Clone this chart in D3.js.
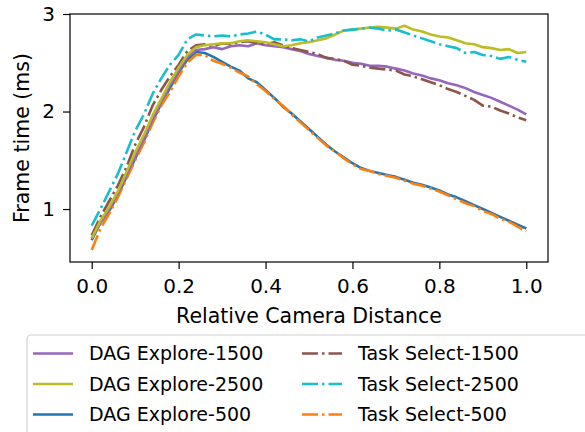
<!DOCTYPE html>
<html>
<head>
<meta charset="utf-8">
<script src="https://cdn.jsdelivr.net/npm/d3@7"></script>
<style>
body { margin: 0; background: #fff; }
text { font-family: "DejaVu Sans", sans-serif; fill: #000; }
</style>
</head>
<body>
<script>
var w = 585;
var h = 432;

// relative camera distance, step 0.02
var distance = d3.range(51).map(function(i){ return i / 50; });

var dagExplore500 = [0.68,0.86,0.98,1.14,1.33,1.52,1.70,1.90,2.08,2.24,
  2.40,2.53,2.61,2.60,2.56,2.51,2.46,2.42,2.34,2.30,
  2.22,2.14,2.05,1.98,1.90,1.82,1.74,1.66,1.59,1.53,
  1.47,1.42,1.39,1.37,1.35,1.33,1.30,1.27,1.25,1.22,
  1.19,1.15,1.12,1.08,1.04,1.00,0.96,0.92,0.88,0.84,0.80];
var taskSelect500 = [0.58,0.80,0.95,1.12,1.31,1.50,1.68,1.88,2.06,2.20,
  2.36,2.50,2.58,2.58,2.52,2.49,2.45,2.40,2.36,2.28,
  2.21,2.13,2.06,1.97,1.89,1.81,1.73,1.65,1.59,1.52,
  1.46,1.41,1.39,1.36,1.34,1.32,1.29,1.26,1.24,1.21,
  1.18,1.14,1.10,1.06,1.03,0.98,0.95,0.90,0.87,0.82,0.77];
var dagExplore1500 = [0.70,0.86,1.00,1.16,1.35,1.54,1.72,1.92,2.10,2.27,
  2.42,2.56,2.63,2.64,2.66,2.64,2.67,2.68,2.67,2.70,
  2.68,2.67,2.66,2.64,2.62,2.59,2.57,2.55,2.53,2.52,
  2.50,2.49,2.47,2.47,2.46,2.44,2.42,2.39,2.37,2.34,
  2.32,2.29,2.27,2.24,2.20,2.17,2.14,2.10,2.06,2.02,1.97];
var taskSelect1500 = [0.73,0.92,1.08,1.24,1.43,1.66,1.84,2.06,2.22,2.36,
  2.48,2.62,2.68,2.69,2.67,2.70,2.69,2.71,2.72,2.70,
  2.69,2.71,2.68,2.65,2.63,2.61,2.59,2.55,2.54,2.52,
  2.48,2.47,2.45,2.44,2.43,2.42,2.38,2.36,2.33,2.30,
  2.27,2.23,2.20,2.16,2.12,2.06,2.05,2.01,1.98,1.94,1.91];
var dagExplore2500 = [0.70,0.88,1.02,1.18,1.38,1.58,1.76,1.96,2.13,2.30,
  2.45,2.58,2.66,2.68,2.69,2.70,2.70,2.72,2.73,2.72,
  2.71,2.69,2.67,2.68,2.70,2.71,2.73,2.75,2.79,2.83,
  2.84,2.85,2.86,2.87,2.86,2.85,2.88,2.84,2.82,2.79,
  2.77,2.76,2.73,2.70,2.69,2.66,2.65,2.63,2.64,2.60,2.61];
var taskSelect2500 = [0.83,1.00,1.18,1.36,1.58,1.80,1.97,2.18,2.34,2.48,
  2.58,2.74,2.79,2.78,2.77,2.78,2.77,2.79,2.80,2.82,
  2.79,2.74,2.74,2.73,2.74,2.72,2.76,2.78,2.80,2.83,
  2.84,2.85,2.86,2.85,2.83,2.84,2.81,2.78,2.75,2.72,
  2.69,2.67,2.65,2.60,2.61,2.58,2.57,2.54,2.56,2.53,2.51];

var xTicks = [0, 0.2, 0.4, 0.6, 0.8, 1.0];
var yTicks = [1, 2, 3];

// plotting order (matplotlib colour cycle order)
var series = [
  {name:"DAG Explore-500",  values:dagExplore500,  color:"#1f77b4", dash:null},
  {name:"Task Select-500",  values:taskSelect500,  color:"#ff7f0e", dash:"16,4,2.5,4"},
  {name:"DAG Explore-1500", values:dagExplore1500, color:"#9467bd", dash:null},
  {name:"Task Select-1500", values:taskSelect1500, color:"#8c564b", dash:"16,4,2.5,4"},
  {name:"DAG Explore-2500", values:dagExplore2500, color:"#bcbd22", dash:null},
  {name:"Task Select-2500", values:taskSelect2500, color:"#17becf", dash:"16,4,2.5,4"}
];
var legendOrder = ["DAG Explore-1500","DAG Explore-2500","DAG Explore-500",
  "Task Select-1500","Task Select-2500","Task Select-500"];

var pLeft = 70, pTop = 14, pRight = 548, pBottom = 262;

var svg = d3.select("body")
  .append("svg")
  .attr("width", w)
  .attr("height", h);

var x = d3.scaleLinear().domain([-0.05, 1.05]).range([pLeft, pRight]);
var y = d3.scaleLinear().domain([0.457, 3]).range([pBottom, pTop]);

var line = d3.line()
  .x(function(d,i){ return x(distance[i]); })
  .y(function(d){ return y(d); });

svg.selectAll("path.series")
  .data(series)
  .enter()
  .append("path")
  .attr("class","series")
  .attr("d", function(d){ return line(d.values); })
  .attr("fill","none")
  .attr("stroke", function(d){ return d.color; })
  .attr("stroke-width", 2.6)
  .attr("stroke-linejoin","round")
  .attr("stroke-dasharray", function(d){ return d.dash; });

// frame
svg.append("rect")
  .attr("x", pLeft).attr("y", pTop)
  .attr("width", pRight-pLeft).attr("height", pBottom-pTop)
  .attr("fill","none").attr("stroke","#000").attr("stroke-width",1.2);

var xAxis = svg.append("g")
  .attr("transform","translate(0,"+pBottom+")")
  .call(d3.axisBottom(x).tickValues(xTicks).tickFormat(d3.format(".1f")).tickSize(7).tickPadding(10));
var yAxis = svg.append("g")
  .attr("transform","translate("+pLeft+",0)")
  .call(d3.axisLeft(y).tickValues(yTicks).tickFormat(d3.format("d")).tickSize(7).tickPadding(8));
[xAxis, yAxis].forEach(function(a){
  a.select(".domain").remove();
  a.selectAll("line").attr("stroke","#000").attr("stroke-width",1.2);
  a.selectAll("text").style("font-size","20px").attr("font-family",null);
});

svg.append("text")
  .attr("x", (pLeft+pRight)/2).attr("y", 322.5)
  .attr("text-anchor","middle")
  .style("font-size","20.5px")
  .text("Relative Camera Distance");
svg.append("text")
  .attr("transform","translate(29,"+((pTop+pBottom)/2)+") rotate(-90)")
  .attr("text-anchor","middle")
  .style("font-size","20.5px")
  .text("Frame time (ms)");

// legend
var legend = svg.append("g");
legend.append("rect")
  .attr("x",27).attr("y",335).attr("width",600).attr("height",120)
  .attr("rx",4)
  .attr("fill","#fff").attr("fill-opacity",0.8)
  .attr("stroke","#d0d0d0").attr("stroke-width",1.2);

var items = legend.selectAll("g.item")
  .data(legendOrder.map(function(n){ return series.filter(function(s){ return s.name===n; })[0]; }))
  .enter()
  .append("g")
  .attr("class","item")
  .attr("transform", function(d,i){
    var col = Math.floor(i/3), row = i%3;
    return "translate("+(col===0 ? 33 : 302)+","+(353.5+row*30.5)+")";
  });
items.append("line")
  .attr("x1",0).attr("x2",40).attr("y1",0).attr("y2",0)
  .attr("stroke", function(d){ return d.color; })
  .attr("stroke-width",2.6)
  .attr("stroke-dasharray", function(d){ return d.dash; });
items.append("text")
  .attr("x",56).attr("y",0).attr("dy","0.36em")
  .style("font-size","19px")
  .text(function(d){ return d.name; });
</script>
</body>
</html>
